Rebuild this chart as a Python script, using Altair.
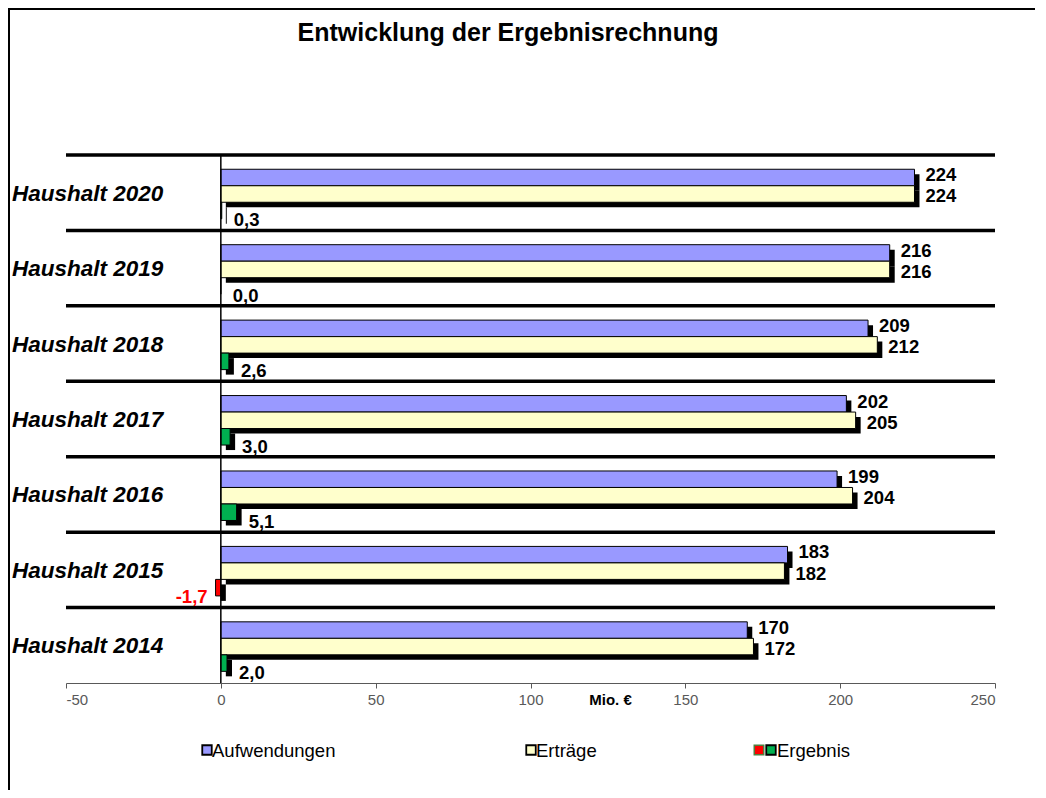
import altair as alt
import pandas as pd

# ---- data ----
years = ["Haushalt 2020", "Haushalt 2019", "Haushalt 2018", "Haushalt 2017",
         "Haushalt 2016", "Haushalt 2015", "Haushalt 2014"]
aufwendungen = [224, 216, 209, 202, 199, 183, 170]
ertraege = [224, 216, 212, 205, 204, 182, 172]
ergebnis = [0.3, 0.0, 2.6, 3.0, 5.1, -1.7, 2.0]
series = ["Aufwendungen", "Erträge", "Ergebnis"]
series_colors = ["#9999FF", "#FFFFCC", "#00B050"]
x_ticks = [-50, 0, 50, 100, 150, 200, 250]
title_text = "Entwicklung der Ergebnisrechnung"
unit_text = "Mio. €"

rows = []
for i, y in enumerate(years):
    rows.append({"year": y, "series": series[0], "value": aufwendungen[i]})
    rows.append({"year": y, "series": series[1], "value": ertraege[i]})
    rows.append({"year": y, "series": series[2], "value": ergebnis[i]})
df = pd.DataFrame(rows)
df_years = pd.DataFrame({"year": years})
one = pd.DataFrame({"k": [0]})

FONT = "Liberation Sans"
W, H = 929, 528

x_scale = alt.Scale(domain=[-50, 250], nice=False, zero=False)
x_axis = alt.Axis(values=x_ticks, title=unit_text, grid=False,
                  labelExpr="replace(datum.label, '\u2212', '-')",
                  domainColor="#595959", tickColor="#595959", tickSize=5,
                  labelColor="#595959", labelFontSize=15, labelFont=FONT,
                  labelPadding=4, titleFont=FONT, titleFontSize=15,
                  titleFontWeight="bold", titleColor="#000000",
                  titleX=544, titleY=16, titleAlign="center",
                  titleBaseline="middle", titleAnchor="start")
y_enc = alt.Y("year:N", sort=years,
              scale=alt.Scale(domain=years, paddingInner=0, paddingOuter=0),
              axis=None)


def yoff(align):
    return alt.YOffset("series:N", sort=series,
                       scale=alt.Scale(domain=series, paddingInner=0,
                                       paddingOuter=0.786, align=align))


def xq():
    return alt.X("value:Q", scale=x_scale, axis=x_axis)


base = alt.Chart(df)

shadow = base.mark_bar(color="black", xOffset=5, x2Offset=5).encode(
    x=xq(), y=y_enc, yOffset=yoff(0.743)
)

bars = base.mark_bar(stroke="black", strokeWidth=1).encode(
    x=xq(), y=y_enc, yOffset=yoff(0.55),
    color=alt.condition("datum.value < 0", alt.value("#FF0000"),
                        alt.Color("series:N", sort=series,
                                  scale=alt.Scale(domain=series, range=series_colors),
                                  legend=None)),
)

LBL = dict(font=FONT, fontSize=18.5, fontWeight="bold", baseline="middle")

labels_ae = base.transform_filter("datum.series != 'Ergebnis'").transform_calculate(
    label="format(datum.value, '.0f')"
).mark_text(align="left", dx=11, dy=2, color="black", **LBL).encode(
    x=xq(), y=y_enc, yOffset=yoff(0.55), text="label:N"
)

labels_gp = base.transform_filter("datum.series == 'Ergebnis' && datum.value >= 0").transform_calculate(
    label="replace(format(datum.value, '.1f'), '.', ',')"
).mark_text(align="left", dx=12, dy=5, color="black", **LBL).encode(
    x=xq(), y=y_enc, yOffset=yoff(0.55), text="label:N"
)

labels_gn = base.transform_filter("datum.series == 'Ergebnis' && datum.value < 0").transform_calculate(
    label="replace(replace(format(datum.value, '.1f'), '.', ','), '\u2212', '-')"
).mark_text(align="right", dx=-8, dy=4, color="#FF0000", **LBL).encode(
    x=xq(), y=y_enc, yOffset=yoff(0.55), text="label:N"
)

separators = alt.Chart(df_years).mark_rule(color="black", strokeWidth=3.5).encode(
    y=alt.Y("year:N", sort=years, bandPosition=0,
            scale=alt.Scale(domain=years, paddingInner=0, paddingOuter=0), axis=None),
    x=alt.datum(-50, scale=x_scale, axis=x_axis), x2=alt.datum(250),
)

zero_line = alt.Chart(one).mark_rule(color="black", strokeWidth=1.5).encode(
    x=alt.datum(0, scale=x_scale, axis=x_axis)
)

group_labels = alt.Chart(df_years).mark_text(
    align="left", baseline="middle", dx=-54, dy=1, font=FONT, fontSize=22.5,
    fontWeight="bold", fontStyle="italic", color="black"
).encode(
    y=y_enc, x=alt.datum(-50, scale=x_scale, axis=x_axis), text="year:N"
)

title = alt.Chart(one).mark_text(
    text=title_text, align="center", baseline="middle", font=FONT,
    fontSize=25, fontWeight="bold", color="black"
).encode(x=alt.value(442), y=alt.value(-122))

border_top = alt.Chart(one).mark_rule(color="black", strokeWidth=2).encode(
    x=alt.value(-58), x2=alt.value(980), y=alt.value(-146)
)
border_left = alt.Chart(one).mark_rule(color="black", strokeWidth=2).encode(
    x=alt.value(-57), y=alt.value(-147), y2=alt.value(640)
)

legend_layers = []
leg_y = 595
LEGT = dict(align="left", baseline="middle", font=FONT, fontSize=18.5, color="black")
for name, color, sx, tx in [("Aufwendungen", series_colors[0], 141, 146),
                            ("Erträge", series_colors[1], 465, 470)]:
    legend_layers.append(alt.Chart(one).mark_square(
        size=90, fill=color, stroke="black", strokeWidth=1.8, opacity=1
    ).encode(x=alt.value(sx), y=alt.value(leg_y)))
    legend_layers.append(alt.Chart(one).mark_text(text=name, **LEGT).encode(
        x=alt.value(tx), y=alt.value(leg_y + 1)))
legend_layers.append(alt.Chart(one).mark_square(
    size=90, fill="#FF0000", stroke="#4F7F3F", strokeWidth=1.5, opacity=1
).encode(x=alt.value(693), y=alt.value(leg_y)))
legend_layers.append(alt.Chart(one).mark_square(
    size=90, fill=series_colors[2], stroke="black", strokeWidth=1.8, opacity=1
).encode(x=alt.value(705), y=alt.value(leg_y)))
legend_layers.append(alt.Chart(one).mark_text(text=series[2], **LEGT).encode(
    x=alt.value(711), y=alt.value(leg_y + 1)))

chart = alt.layer(
    separators, shadow, bars, zero_line, labels_ae, labels_gp, labels_gn,
    group_labels, title, border_top, border_left, *legend_layers
).resolve_scale(yOffset="independent").properties(
    width=W, height=H,
    autosize=alt.AutoSizeParams(type="none"),
    padding={"left": 58, "top": 147, "right": 40, "bottom": 107},
    background="white",
).configure_view(stroke=None)

chart.save("out.html", embed_options={"renderer": "svg", "actions": False})
